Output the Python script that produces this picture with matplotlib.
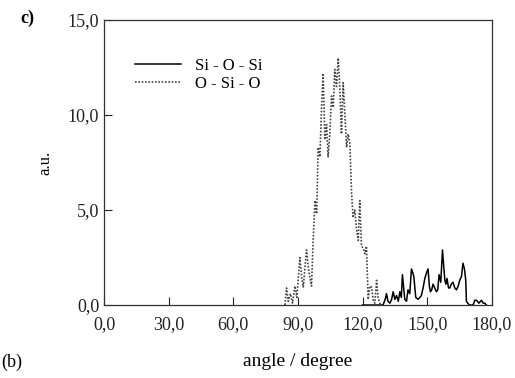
import matplotlib
matplotlib.use("Agg")
import matplotlib.pyplot as plt
from matplotlib.ticker import FuncFormatter

# O-Si-O distribution (dotted)
osio_angle = [84.0, 84.7, 85.5, 86.5, 87.5, 88.6, 89.5, 90.9, 91.7, 92.5,
              93.3, 94.0, 95.0, 96.3, 97.1, 97.9, 98.7, 99.4, 100.2, 101.0,
              101.7, 102.5, 103.3, 104.0, 104.8, 105.6, 106.4, 107.1, 107.9, 108.7,
              109.5, 110.2, 111.0, 111.8, 112.6, 113.3, 114.1, 114.9, 115.6, 116.4,
              117.2, 118.0, 118.7, 119.5, 120.3, 121.1, 121.8, 122.6, 123.4, 124.2,
              125.0, 125.7, 126.5, 127.2, 128.0, 128.8, 129.5]
osio_value = [0.0, 0.9, 0.2, 0.6, 0.1, 1.0, 0.4, 2.5, 1.5, 0.95,
              2.0, 2.9, 1.8, 1.0, 3.5, 5.5, 4.8, 8.3, 7.8, 10.5,
              12.2, 8.7, 9.5, 7.8, 9.0, 11.0, 10.4, 12.4, 11.5, 13.0,
              11.3, 9.0, 11.7, 10.0, 8.3, 9.0, 8.5, 5.9, 4.6, 5.0,
              4.0, 3.4, 5.5, 3.1, 3.0, 2.7, 3.1, 0.3, 1.0, 0.95,
              0.2, 0.1, 1.3, 0.4, 0.1, 0.0, 0.0]

# Si-O-Si distribution (solid)
sios_angle = [120.0, 129.5, 130.5, 131.1, 131.8, 132.7, 133.5, 134.2, 135.0, 135.8,
              136.6, 137.3, 138.0, 138.5, 139.1, 139.6, 140.4, 141.1, 141.9, 142.7,
              143.3, 143.8, 144.7, 145.8, 146.6, 147.3, 148.1, 148.9, 149.7, 150.4,
              151.0, 151.5, 152.1, 152.7, 153.5, 154.3, 154.9, 155.5, 156.3, 157.1,
              157.7, 158.2, 158.7, 159.2, 159.9, 160.5, 161.2, 162.0, 162.8, 163.6,
              164.4, 165.1, 165.9, 166.6, 167.3, 167.9, 168.2, 169.5, 171.3, 172.1,
              172.9, 174.0, 175.2, 176.0, 176.7, 177.5]
sios_value = [0.0, 0.0, 0.3, 0.6, 0.2, 0.1, 0.3, 0.7, 0.3, 0.5,
              0.2, 0.7, 0.4, 1.6, 0.9, 0.3, 0.2, 0.8, 0.6, 1.9,
              1.7, 1.5, 0.4, 0.3, 0.4, 0.5, 0.9, 1.4, 1.7, 1.9,
              1.0, 0.7, 0.8, 1.1, 0.9, 0.7, 0.8, 1.6, 1.2, 2.9,
              2.0, 1.3, 1.1, 1.4, 0.9, 0.9, 1.1, 1.2, 0.9, 0.8,
              1.0, 1.3, 1.5, 2.2, 1.9, 1.3, 0.2, 0.0, 0.0, 0.25,
              0.25, 0.1, 0.25, 0.1, 0.1, 0.0]

x_ticks = [0, 30, 60, 90, 120, 150, 180]
y_ticks = [0, 5, 10, 15]

plt.rcParams['font.family'] = ['Liberation Serif', 'DejaVu Serif']

fig = plt.figure(figsize=(5.15, 3.78), dpi=100)
ax = fig.add_axes([0.202, 0.193, 0.753, 0.754])

ax.plot(sios_angle, sios_value, color='black', lw=1.1, label='Si - O - Si')
ax.plot(osio_angle, osio_value, color='#444444', lw=1.2, ls=(0, (1, 1)), label='O - Si - O')

ax.set_xlim(0, 180)
ax.set_ylim(0, 15)
ax.set_xticks(x_ticks)
ax.set_yticks(y_ticks)
fmt = FuncFormatter(lambda v, p: f"{v:.1f}".replace('.', ','))
ax.xaxis.set_major_formatter(fmt)
ax.yaxis.set_major_formatter(fmt)
ax.tick_params(direction='in', length=6, width=0.8, labelsize=13, colors='#222222')
ax.tick_params(axis='x', pad=8)
for s in ax.spines.values():
    s.set_linewidth(0.9)
    s.set_color('#333333')

ax.set_xlabel('angle / degree', fontsize=14, labelpad=14)
ax.set_ylabel('a.u.', fontsize=12, labelpad=10)

ax.legend(loc='upper left', bbox_to_anchor=(0.04, 0.92), frameon=False,
          fontsize=12, handlelength=2.8, handletextpad=0.8, labelspacing=0.1)

fig.text(0.04, 0.94, 'c)', fontsize=13, fontweight='bold')
fig.text(0.003, 0.03, '(b)', fontsize=13)

fig.savefig('out.png', dpi=100)
